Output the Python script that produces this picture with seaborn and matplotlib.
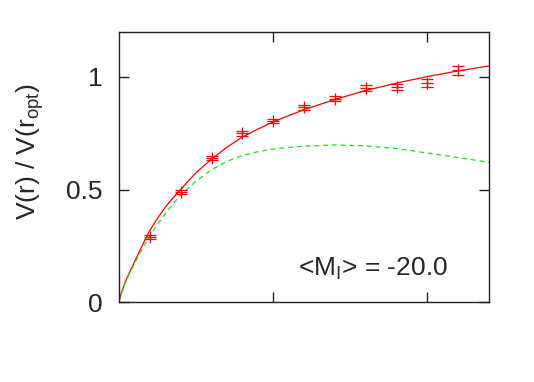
import numpy as np
import pandas as pd
import seaborn as sns
import matplotlib.pyplot as plt

# measured points (r / r_opt, V / V_opt, error)
r_pts = [0.2, 0.4, 0.6, 0.8, 1.0, 1.2, 1.4, 1.6, 1.8, 2.0, 2.2]
v_pts = [0.29, 0.49, 0.641, 0.75, 0.804, 0.865, 0.904, 0.952, 0.954, 0.972, 1.030]
v_err = [0.010, 0.010, 0.010, 0.012, 0.008, 0.010, 0.010, 0.013, 0.013, 0.018, 0.019]

# model curves
r_curve = [0, 0.01, 0.025, 0.05, 0.1, 0.15, 0.2, 0.25, 0.3, 0.35, 0.4, 0.5, 0.6,
           0.7, 0.8, 0.9, 1.0, 1.2, 1.4, 1.6, 1.8, 2.0, 2.2, 2.4]
v_total = [0, 0.03, 0.06, 0.105, 0.178, 0.25, 0.318, 0.372, 0.421, 0.463, 0.50,
           0.575, 0.635, 0.688, 0.733, 0.768, 0.801, 0.855, 0.900, 0.940, 0.973,
           1.002, 1.027, 1.049]
v_disk = [0, 0.028, 0.055, 0.10, 0.17, 0.235, 0.295, 0.345, 0.392, 0.436, 0.476,
          0.537, 0.588, 0.625, 0.651, 0.668, 0.680, 0.693, 0.698, 0.694, 0.682,
          0.662, 0.642, 0.621]

label_text = r"<M$_\mathregular{I}$> = -20.0"

sns.set_style("ticks")
plt.rcParams['font.family'] = ['Liberation Sans', 'DejaVu Sans']
plt.rcParams['mathtext.fontset'] = 'custom'
plt.rcParams['mathtext.rm'] = 'Liberation Sans'

curves = pd.DataFrame({"r": r_curve, "total": v_total, "disk": v_disk})

fig = plt.figure(figsize=(5.34, 3.82), dpi=100)
ax = fig.add_axes([119 / 534, 80 / 382, 370 / 534, 270 / 382])

sns.lineplot(data=curves, x="r", y="total", ax=ax, color="#ff0000", lw=0.9)
sns.lineplot(data=curves, x="r", y="disk", ax=ax, color="#22dd22", lw=0.9,
             linestyle=(0, (4, 3)))
ax.errorbar(r_pts, v_pts, yerr=v_err, fmt='+', color="#ff0000", ms=8,
            mew=0.9, elinewidth=0.9, capsize=4, capthick=0.9)

ax.set_xlim(0, 2.4)
ax.set_ylim(0, 1.2)
ax.set_xticks([1, 2])
ax.set_yticks([0, 0.5, 1])
ax.set_yticklabels(["0", "0.5", "1"])
ax.set_xticklabels([])
ax.set_xlabel("")
ax.set_ylabel("")
ax.tick_params(direction='in', length=7, width=1, top=True, right=True,
               labelsize=19, pad=12, color="#222222")
for s in ax.spines.values():
    s.set_linewidth(1)
    s.set_color("#222222")

ax.text(1.645, 0.12, label_text, ha='center', va='baseline', fontsize=19)
fig.text(30 / 534, 1 - 151 / 382, r"V(r) / V(r$_\mathregular{opt}$)",
         rotation=90, ha='center', va='center', fontsize=19)

fig.savefig("out.png", dpi=100)
plt.close("all")
